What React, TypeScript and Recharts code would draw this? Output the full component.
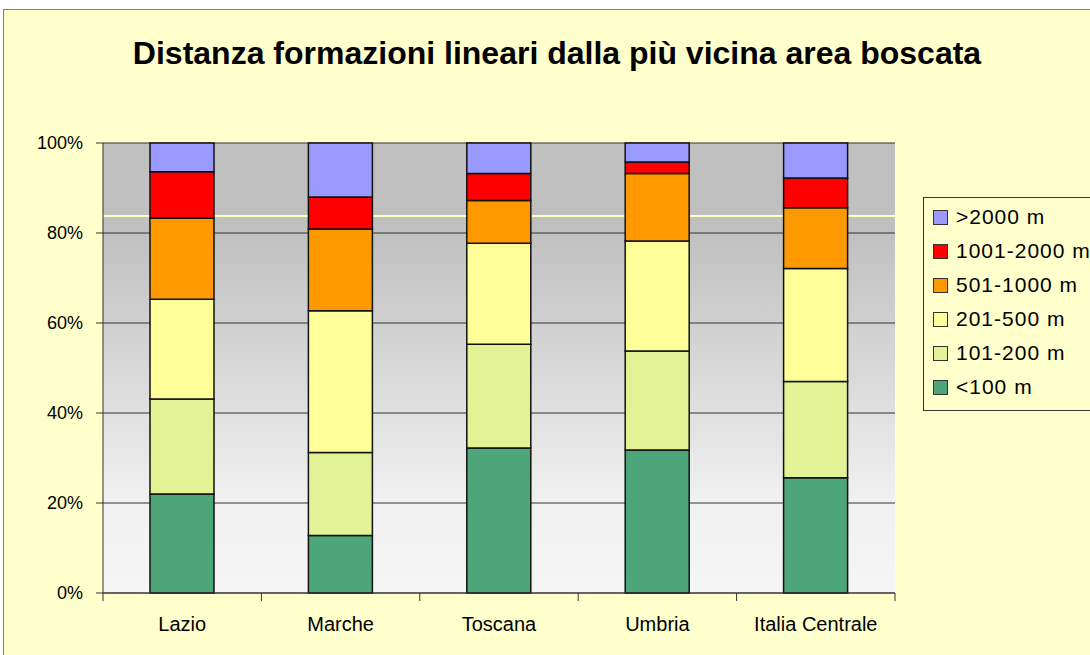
import React from "react";
import { BarChart, Bar, XAxis, YAxis, CartesianGrid } from "recharts";

const REGIONS = ["Lazio", "Marche", "Toscana", "Umbria", "Italia Centrale"];
const SERIES = ["<100 m", "101-200 m", "201-500 m", "501-1000 m", "1001-2000 m", ">2000 m"];
const COLORS = ["#4DA57A", "#E3F294", "#FFFF99", "#FF9900", "#FF0000", "#9999FF"];

// percentuali per classe di distanza (una riga per serie, una colonna per regione)
const LT100 = [22.0, 12.8, 32.2, 31.8, 25.6];
const D101_200 = [21.1, 18.4, 23.1, 22.0, 21.4];
const D201_500 = [22.2, 31.5, 22.4, 24.4, 25.1];
const D501_1000 = [18.0, 18.2, 9.5, 15.0, 13.5];
const D1001_2000 = [10.3, 7.1, 6.0, 2.6, 6.6];
const GT2000 = [6.4, 12.0, 6.8, 4.2, 7.8];
const Y_TICKS = [0, 20, 40, 60, 80, 100];

const VALUES = [LT100, D101_200, D201_500, D501_1000, D1001_2000, GT2000];
const data = REGIONS.map((r, i) => {
  const row: any = { region: r };
  SERIES.forEach((s, k) => (row[s] = VALUES[k][i]));
  return row;
});

const FONT = "'Liberation Sans', Arial, sans-serif";

const XTick = (props: any) => {
  const { x, y, payload, index, width, visibleTicksCount } = props;
  const half = width / visibleTicksCount / 2;
  const top = y - 10;
  return (
    <g>
      <line x1={x - half} x2={x - half} y1={top} y2={top + 8} stroke="#333" />
      {index === visibleTicksCount - 1 && (
        <line x1={x + half} x2={x + half} y1={top} y2={top + 8} stroke="#333" />
      )}
      <text x={x} y={y + 28} textAnchor="middle" fontSize={20} fill="#000" fontFamily={FONT}>
        {payload.value}
      </text>
    </g>
  );
};

const LegendBox = () => (
  <div
    style={{
      position: "absolute",
      left: 919,
      top: 187,
      width: 210,
      border: "1px solid #333",
      background: "#FFFFCC",
      padding: "2px 0 6px 9px",
      fontFamily: FONT,
      fontSize: 21,
      letterSpacing: 1,
      color: "#000",
    }}
  >
    {[...SERIES].reverse().map((s, i) => (
      <div key={s} style={{ display: "flex", alignItems: "center", height: 34, whiteSpace: "nowrap" }}>
        <span
          style={{
            width: 13,
            height: 13,
            background: [...COLORS].reverse()[i],
            border: "1px solid #333",
            marginRight: 8,
            display: "inline-block",
          }}
        />
        {s}
      </div>
    ))}
  </div>
);

export default function App() {
  return (
    <div style={{ position: "absolute", left: 0, top: 0, width: 1090, height: 655, overflow: "hidden" }}>
      <style>{"body{margin:0;overflow:hidden}"}</style>
      <div
        style={{
          position: "absolute",
          left: 3,
          top: 9,
          width: 1110,
          height: 650,
          background: "#FFFFCC",
          border: "1px solid #808080",
        }}
      >
        <div
          style={{
            position: "absolute",
            left: 0,
            width: 1106,
            top: 25,
            textAlign: "center",
            fontFamily: FONT,
            fontWeight: "bold",
            fontSize: 32,
            color: "#000",
          }}
        >
          Distanza formazioni lineari dalla più vicina area boscata
        </div>
        <BarChart
          width={1106}
          height={645}
          data={data}
          margin={{ top: 133, right: 215, bottom: 0, left: 0 }}
          barSize={64}
        >
          <defs>
            <linearGradient id="plotBg" x1="0" y1="0" x2="0" y2="1">
              <stop offset="0" stopColor="#c0c0c0" />
              <stop offset="0.161" stopColor="#c0c0c0" />
              <stop offset="0.161" stopColor="#ffffc0" />
              <stop offset="0.1635" stopColor="#ffffc0" />
              <stop offset="0.1635" stopColor="#c0c0c0" />
              <stop offset="0.2" stopColor="#c0c0c0" />
              <stop offset="0.6" stopColor="#e0e0e0" />
              <stop offset="0.8" stopColor="#f1f1f1" />
              <stop offset="1" stopColor="#f5f5f5" />
            </linearGradient>
          </defs>
          <CartesianGrid vertical={false} fill="url(#plotBg)" stroke="#333" fillOpacity={1} />
          <XAxis
            dataKey="region"
            axisLine={{ stroke: "#333" }}
            tickLine={false}
            tickSize={8}
            tick={<XTick />}
            interval={0}
            height={62}
          />
          <YAxis
            domain={[0, 100]}
            ticks={Y_TICKS}
            tickFormatter={(v) => v + "%"}
            width={99}
            tickSize={7}
            tickMargin={13}
            axisLine={{ stroke: "#333" }}
            tickLine={{ stroke: "#333" }}
            tick={{ fontSize: 18, fill: "#000", fontFamily: FONT }}
            interval={0}
          />
          <YAxis
            yAxisId="frame"
            orientation="right"
            domain={[0, 100]}
            width={0}
            tick={false}
            tickLine={false}
            axisLine={{ stroke: "#808080" }}
          />
          {SERIES.map((s, k) => (
            <Bar
              key={s}
              dataKey={s}
              stackId="a"
              fill={COLORS[k]}
              stroke="#111"
              strokeWidth={1.5}
              isAnimationActive={false}
            />
          ))}
        </BarChart>
        <LegendBox />
      </div>
    </div>
  );
}
